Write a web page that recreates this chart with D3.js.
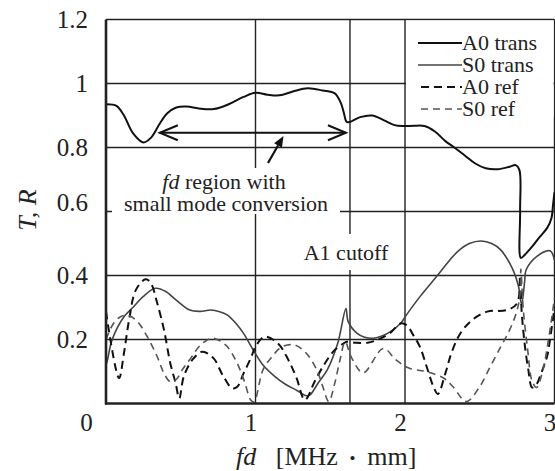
<!DOCTYPE html>
<html>
<head>
<meta charset="utf-8">
<script src="https://cdn.jsdelivr.net/npm/d3@7"></script>
<style>
  body { margin: 0; background: #fff; }
  text { font-family: "Liberation Serif", "Times New Roman", serif; fill: #222; }
</style>
</head>
<body>
<svg id="drawspace" width="555" height="471"></svg>
<script>
// tick values
const xTicks = [0, 1, 2, 3];
const yTicks = [0.2, 0.4, 0.6, 0.8, 1.0, 1.2];
const cutoffFd = 1.632;

// series: [fd, value]
const a0Trans = [[0.0,0.935],[0.07,0.93],[0.12,0.9],[0.18,0.845],[0.25,0.816],[0.3,0.83],[0.36,0.875],
  [0.41,0.907],[0.47,0.925],[0.54,0.928],[0.62,0.922],[0.72,0.92],[0.82,0.935],[0.92,0.958],[1.0,0.971],
  [1.08,0.965],[1.16,0.963],[1.25,0.975],[1.35,0.985],[1.45,0.978],[1.53,0.969],[1.57,0.94],[1.59,0.91],
  [1.61,0.88],[1.63,0.88],[1.7,0.895],[1.78,0.9],[1.86,0.885],[1.93,0.87],[1.99,0.867],[2.06,0.868],
  [2.13,0.867],[2.2,0.85],[2.27,0.82],[2.33,0.8],[2.4,0.775],[2.47,0.75],[2.54,0.735],[2.62,0.732],
  [2.7,0.74],[2.74,0.745],[2.765,0.73],[2.77,0.6],[2.775,0.455],[2.8,0.464],[2.85,0.49],[2.9,0.52],
  [2.95,0.548],[2.98,0.58],[2.99,0.62],[3.0,0.66]];

const s0Trans = [[0.0,0.12],[0.01,0.136],[0.04,0.198],[0.12,0.271],[0.18,0.3],[0.25,0.335],[0.33,0.36],
  [0.4,0.35],[0.47,0.323],[0.56,0.292],[0.63,0.288],[0.7,0.292],[0.76,0.287],[0.81,0.277],[0.87,0.25],
  [0.92,0.219],[0.985,0.167],[1.05,0.12],[1.13,0.084],[1.2,0.06],[1.28,0.04],[1.34,0.024],[1.365,0.027],
  [1.42,0.065],[1.48,0.105],[1.55,0.188],[1.605,0.297],[1.62,0.256],[1.68,0.219],[1.73,0.207],[1.79,0.204],
  [1.85,0.212],[1.9,0.224],[1.97,0.25],[2.01,0.277],[2.1,0.334],[2.21,0.396],[2.35,0.474],[2.43,0.5],
  [2.51,0.508],[2.58,0.5],[2.64,0.48],[2.72,0.42],[2.76,0.365],[2.78,0.31],[2.8,0.38],[2.81,0.417],
  [2.88,0.459],[2.97,0.477],[3.0,0.448]];

const a0Ref = [[0.0,0.287],[0.087,0.079],[0.12,0.157],[0.154,0.26],[0.2,0.355],[0.265,0.388],[0.3,0.376],
  [0.343,0.313],[0.388,0.23],[0.43,0.126],[0.466,0.063],[0.49,0.016],[0.52,0.084],[0.577,0.136],
  [0.644,0.162],[0.72,0.141],[0.78,0.089],[0.845,0.047],[0.88,0.053],[0.92,0.094],[0.968,0.141],
  [1.0,0.177],[1.06,0.209],[1.15,0.188],[1.22,0.136],[1.275,0.079],[1.33,0.011],[1.4,0.073],
  [1.465,0.126],[1.53,0.167],[1.59,0.188],[1.61,0.193],[1.67,0.19],[1.75,0.19],[1.82,0.2],[1.9,0.22],
  [1.97,0.25],[2.01,0.245],[2.06,0.21],[2.1,0.177],[2.145,0.115],[2.19,0.053],[2.22,0.03],[2.27,0.094],
  [2.31,0.157],[2.37,0.219],[2.45,0.261],[2.55,0.287],[2.68,0.292],[2.75,0.313],[2.77,0.4],[2.78,0.29],
  [2.8,0.188],[2.825,0.105],[2.85,0.05],[2.88,0.06],[2.91,0.094],[2.95,0.146],[2.97,0.2],[3.0,0.3]];

const s0Ref = [[0.0,0.2],[0.05,0.25],[0.1,0.272],[0.15,0.275],[0.21,0.256],[0.276,0.209],[0.343,0.146],
  [0.388,0.094],[0.43,0.068],[0.47,0.075],[0.51,0.105],[0.566,0.141],[0.633,0.183],[0.71,0.204],
  [0.8,0.183],[0.867,0.136],[0.923,0.073],[0.968,0.011],[0.99,0.005],[1.05,0.105],[1.11,0.146],
  [1.175,0.177],[1.26,0.183],[1.34,0.157],[1.41,0.105],[1.45,0.053],[1.49,0.006],[1.53,0.063],
  [1.565,0.136],[1.6,0.193],[1.64,0.146],[1.72,0.096],[1.855,0.172],[1.94,0.136],[2.03,0.11],
  [2.14,0.1],[2.26,0.079],[2.32,0.053],[2.41,0.006],[2.5,0.053],[2.57,0.115],[2.64,0.177],[2.7,0.23],
  [2.75,0.292],[2.77,0.344],[2.775,0.42],[2.79,0.3],[2.82,0.17],[2.85,0.07],[2.88,0.05],[2.92,0.1],
  [2.96,0.2],[3.0,0.33]];

const series = [
  { name: "A0 trans", data: a0Trans, color: "#111", width: 2, dash: null },
  { name: "S0 trans", data: s0Trans, color: "#444", width: 1.6, dash: null },
  { name: "A0 ref", data: a0Ref, color: "#111", width: 2, dash: "8,5" },
  { name: "S0 ref", data: s0Ref, color: "#555", width: 1.6, dash: "7,5" }
];

let drawspace = d3.select("#drawspace");

const x = d3.scaleLinear().domain([0, 3]).range([106, 554.5]);
const y = d3.scaleLinear().domain([0, 1.2]).range([403.5, 19.5]);

// grid
drawspace.append("g").selectAll("line.h")
  .data(yTicks).enter().append("line")
  .attr("x1", x(0)).attr("x2", x(3))
  .attr("y1", (d) => y(d)).attr("y2", (d) => y(d))
  .attr("stroke", "#222").attr("stroke-width", 1.4);

drawspace.append("g").selectAll("line.v")
  .data(xTicks.slice(1).concat([cutoffFd])).enter().append("line")
  .attr("x1", (d) => x(d)).attr("x2", (d) => x(d))
  .attr("y1", y(0)).attr("y2", y(1.2))
  .attr("stroke", "#222").attr("stroke-width", 1.4);

// white patches behind labels
drawspace.append("rect").attr("x", x(2) + 1).attr("y", y(1.2) + 1)
  .attr("width", x(3) - x(2) - 2).attr("height", 97).attr("fill", "#fff");
drawspace.append("rect").attr("x", 112).attr("y", 168)
  .attr("width", 228).attr("height", 46).attr("fill", "#fff");
drawspace.append("rect").attr("x", 300).attr("y", 234)
  .attr("width", 92).attr("height", 36).attr("fill", "#fff");

// curves
const line = d3.line()
  .x((d) => x(d[0]))
  .y((d) => y(d[1]))
  .curve(d3.curveCatmullRom.alpha(0.5));

drawspace.append("g").selectAll("path")
  .data(series).enter().append("path")
  .attr("d", (d) => line(d.data))
  .attr("fill", "none")
  .attr("stroke", (d) => d.color)
  .attr("stroke-width", (d) => d.width)
  .attr("stroke-dasharray", (d) => d.dash);

// frame
drawspace.append("line").attr("x1", x(0)).attr("x2", x(0)).attr("y1", y(1.2)).attr("y2", y(0) + 1)
  .attr("stroke", "#222").attr("stroke-width", 2.6);
drawspace.append("line").attr("x1", x(0) - 1).attr("x2", x(3)).attr("y1", y(0)).attr("y2", y(0))
  .attr("stroke", "#222").attr("stroke-width", 2.6);

// axes labels (axis used for text only)
const yAxis = drawspace.append("g")
  .attr("transform", "translate(" + (x(0) - 15) + ",0)")
  .call(d3.axisLeft(y).tickValues(yTicks).tickSize(0).tickFormat((d) => d3.format("")(+d.toFixed(1))));
yAxis.select(".domain").remove();
yAxis.selectAll("text")
  .attr("font-size", "25px").attr("fill", "#222")
  .attr("font-family", "Liberation Serif")
  .attr("dy", (d) => d === 0.6 ? "-0.05em" : "0.32em");

const xAxis = drawspace.append("g")
  .attr("transform", "translate(0," + (y(0) + 7) + ")")
  .call(d3.axisBottom(x).tickValues(xTicks).tickSize(0).tickFormat(d3.format("d")));
xAxis.select(".domain").remove();
xAxis.selectAll("text")
  .attr("font-size", "25px").attr("fill", "#222")
  .attr("font-family", "Liberation Serif")
  .attr("dx", (d) => d === 0 ? -20 : -5);

drawspace.append("text")
  .attr("x", 236).attr("y", 465)
  .attr("font-size", "26px")
  .html('<tspan font-style="italic">fd</tspan>\u00a0\u00a0\u00a0[MHz\u00a0\u2009<tspan font-size="17px" dy="-1">\u2022</tspan><tspan dy="1">\u00a0\u2009mm]</tspan>');

drawspace.append("text")
  .attr("transform", "translate(36,210) rotate(-90)")
  .attr("text-anchor", "middle").attr("font-size", "26px").attr("font-style", "italic")
  .text("T, R");

// legend
const legend = drawspace.append("g").selectAll("g")
  .data(series).enter().append("g")
  .attr("transform", (d, i) => "translate(0," + (43 + i * 22) + ")");
legend.append("line")
  .attr("x1", (d) => d.dash ? 421 : 418).attr("x2", 462)
  .attr("stroke", (d) => d.color).attr("stroke-width", (d) => d.width)
  .attr("stroke-dasharray", (d) => d.dash);
legend.append("text")
  .attr("x", 462).attr("y", 7).attr("font-size", "22px")
  .text((d) => d.name);

// annotations
drawspace.append("text").attr("x", 224).attr("y", 189)
  .attr("text-anchor", "middle").attr("font-size", "22px")
  .html('<tspan font-style="italic">fd</tspan> region with');
drawspace.append("text").attr("x", 226).attr("y", 211)
  .attr("text-anchor", "middle").attr("font-size", "22px")
  .text("small mode conversion");
drawspace.append("text").attr("x", 346).attr("y", 260)
  .attr("text-anchor", "middle").attr("font-size", "22px")
  .text("A1 cutoff");

// double arrow
const arrowY = y(0.846), ax1 = x(0.36), ax2 = x(1.605);
drawspace.append("line").attr("x1", ax1).attr("x2", ax2).attr("y1", arrowY).attr("y2", arrowY)
  .attr("stroke", "#111").attr("stroke-width", 2);
drawspace.append("path")
  .attr("d", "M" + (ax1 + 18) + "," + (arrowY - 7.5) + "L" + ax1 + "," + arrowY + "L" + (ax1 + 18) + "," + (arrowY + 7.5)
    + "M" + (ax2 - 18) + "," + (arrowY - 7.5) + "L" + ax2 + "," + arrowY + "L" + (ax2 - 18) + "," + (arrowY + 7.5))
  .attr("fill", "none").attr("stroke", "#111").attr("stroke-width", 2);

// pointer arrow
const p0 = [268, 163], p1 = [283.5, 136];
const ang = Math.atan2(p1[1] - p0[1], p1[0] - p0[0]);
const hl = 11, hw = 4.5;
const bx = p1[0] - hl * Math.cos(ang), by = p1[1] - hl * Math.sin(ang);
drawspace.append("line").attr("x1", p0[0]).attr("y1", p0[1]).attr("x2", bx).attr("y2", by)
  .attr("stroke", "#111").attr("stroke-width", 2.2);
drawspace.append("path")
  .attr("d", "M" + p1[0] + "," + p1[1]
    + "L" + (bx + hw * Math.sin(ang)) + "," + (by - hw * Math.cos(ang))
    + "L" + (bx - hw * Math.sin(ang)) + "," + (by + hw * Math.cos(ang)) + "Z")
  .attr("fill", "#111");
</script>
</body>
</html>
